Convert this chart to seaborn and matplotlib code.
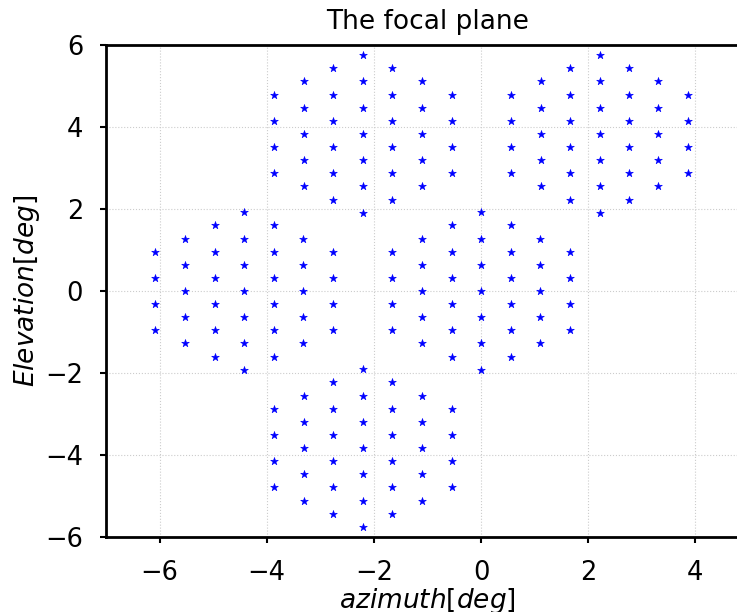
import numpy as np
import pandas as pd
import matplotlib
matplotlib.use("Agg")
import matplotlib.pyplot as plt
import seaborn as sns

# centres of the five detector hexagons (deg)
cluster_az = [-4.42, 0.0, -2.21, 2.21, -2.21]
cluster_el = [0.0, 0.0, 3.83, 3.83, -3.83]

# horn offsets inside one hexagon: column x offset and the y offsets in that column
hex_col_x = [-1.66, -1.10, -0.55, 0.0, 0.55, 1.10, 1.66]
hex_col_y = [
    [-0.96, -0.32, 0.32, 0.96],
    [-1.28, -0.64, 0.0, 0.64, 1.28],
    [-1.60, -0.96, -0.32, 0.32, 0.96, 1.60],
    [-1.92, -1.28, -0.64, 0.0, 0.64, 1.28, 1.92],
    [-1.60, -0.96, -0.32, 0.32, 0.96, 1.60],
    [-1.28, -0.64, 0.0, 0.64, 1.28],
    [-0.96, -0.32, 0.32, 0.96],
]

rows = []
for caz, cel in zip(cluster_az, cluster_el):
    for dx, ys in zip(hex_col_x, hex_col_y):
        for dy in ys:
            rows.append((caz + dx, cel + dy))
df = pd.DataFrame(rows, columns=["az", "el"])

sns.set_style("ticks", {"text.color": "black", "axes.labelcolor": "black",
                        "xtick.color": "black", "ytick.color": "black",
                        "axes.edgecolor": "black"})
plt.rcParams["font.family"] = ["DejaVu Sans"]
plt.rcParams["mathtext.fontset"] = "dejavusans"

fig = plt.figure(figsize=(7.37, 6.12), dpi=100)
ax = fig.add_axes([106 / 737, 75 / 612, 643 / 737, 492 / 612])

sns.scatterplot(data=df, x="az", y="el", marker="*", color="blue",
                s=34, linewidth=0.4, edgecolor="blue", ax=ax)

ax.set_xlim(-7, 5)
ax.set_ylim(-6, 6)
ax.set_xticks([-6, -4, -2, 0, 2, 4])
ax.set_yticks([-6, -4, -2, 0, 2, 4, 6])
ax.grid(True, linestyle=":", color="#cccccc", linewidth=0.8)

for side in ["left", "top", "bottom", "right"]:
    ax.spines[side].set_linewidth(2)

ax.tick_params(axis="both", labelsize=18.5, length=4.5, width=1.5,
               direction="out", pad=12)
ax.set_title("The focal plane", fontsize=19, pad=11.5)
ax.set_xlabel("$azimuth[deg]$", fontsize=19, labelpad=0)
ax.set_ylabel("$Elevation[deg]$", fontsize=19, labelpad=2)

fig.savefig("out.png", dpi=100)
